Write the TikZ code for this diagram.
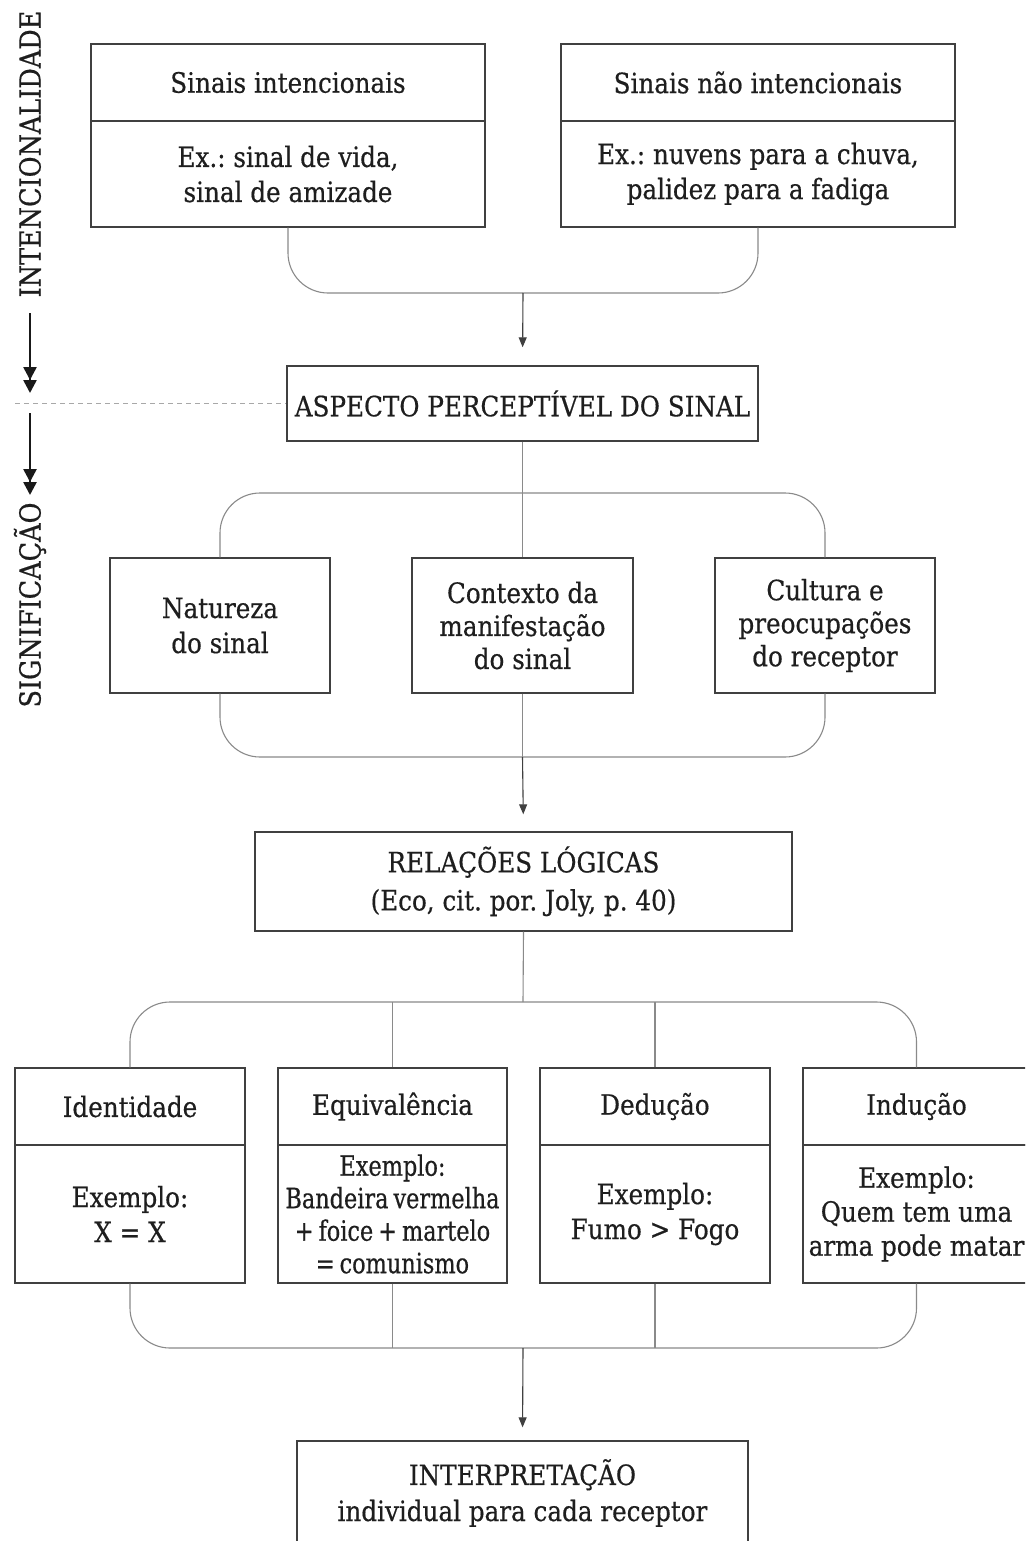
\documentclass[tikz,border=0pt]{standalone}
\usepackage{fontspec}
\setmainfont{DejaVu Serif}[FakeStretch=0.88, FakeBold=0.5]
\newfontfamily\tightserif{DejaVu Serif}[FakeStretch=0.8, FakeBold=0.5, WordSpace=0.7]
\usetikzlibrary{arrows.meta}
\definecolor{ink}{HTML}{1E1E1E}
\definecolor{frame}{HTML}{404040}
\definecolor{wire}{HTML}{8A8A8A}
\definecolor{dashgray}{HTML}{A8A8A8}
\frenchspacing
\tikzset{
  box/.style={draw=frame, line width=1.4pt, inner sep=0pt, align=center,
    text=ink, font=\fontsize{28}{35}\selectfont},
  label/.style={inner sep=0pt, align=center, text=ink,
    font=\fontsize{28}{36}\selectfont},
  sidelabel/.style={inner sep=0pt, rotate=90, text=ink,
    font=\fontsize{29}{34}\selectfont},
  wireline/.style={draw=wire, line width=1.1pt},
  bracket/.style={wireline, rounded corners=40pt},
  flow/.style={draw=frame, line width=1.1pt,
    -{Triangle[width=8pt,length=10pt]}},
  bigarrow/.style={draw=black!90, line width=2.6pt,
    -{Triangle[width=13pt,length=13pt] Triangle[width=13pt,length=13pt]}},
}
\begin{document}
\begin{tikzpicture}[x=1pt, y=-1pt]
\useasboundingbox (0,0) rectangle (1025,1541);
\clip (0,0) rectangle (1025,1541);
\fill[white] (0,0) rectangle (1025,1541);

% side labels and their arrows
\node[sidelabel] (intl) at (30,154) {INTENCIONALIDADE};
\node[sidelabel] (sigl) at (30,605) {SIGNIFICAÇÃO};
\coordinate (a1s) at (30,313);
\coordinate (a1e) at (30,393);
\coordinate (a2s) at (30,413);
\coordinate (a2e) at (30,495);
\draw[bigarrow] (a1s) -- (a1e);
\draw[bigarrow] (a2s) -- (a2e);

% first level: two kinds of signs
\node[box, minimum width=394, minimum height=77] (sIt) at (288,82.5) {Sinais intencionais};
\node[box, minimum width=394, minimum height=106] (sIb) at (288,174) {Ex.: sinal de vida,\\ sinal de amizade};
\node[box, minimum width=394, minimum height=77] (sNt) at (758,82.5) {Sinais não intencionais};
\node[box, minimum width=394, minimum height=106] (sNb) at (758,174) {Ex.: nuvens para a chuva,\\ palidez para a fadiga};

% perceptible aspect
\node[box, minimum width=471, minimum height=75] (asp) at (522.5,403.5) {ASPECTO PERCEPTÍVEL DO SINAL};
\coordinate (dashs) at (15,403.5);
\draw[draw=dashgray, line width=1pt, dash pattern=on 5pt off 4pt] (dashs) -- (asp.west);

\coordinate (j1) at (523,293);
\draw[bracket] (sIb.south) -- (288,293) -- (758,293) -- (sNb.south);
\draw[flow, shorten >=18pt] (j1) -- (asp.north);

% second level: three factors
\node[box, minimum width=220, minimum height=135] (nat) at (220,625.5) {Natureza\\ do sinal};
\node[box, minimum width=221, minimum height=135, font=\fontsize{28}{33}\selectfont] (ctx) at (522.5,625.5) {Contexto da\\ manifestação\\ do sinal};
\node[box, minimum width=220, minimum height=135, font=\fontsize{28}{33}\selectfont] (cul) at (825,625.5) {Cultura e\\ preocupações\\ do receptor};

\draw[bracket] (nat.north) -- (220,493) -- (825,493) -- (cul.north);
\draw[wireline] (asp.south) -- (ctx.north);
\coordinate (j2) at (522.5,757);
\draw[bracket] (nat.south) -- (220,757) -- (825,757) -- (cul.south);
\draw[wireline] (ctx.south) -- (j2);

% logical relations
\node[box, minimum width=537, minimum height=99, font=\fontsize{28}{38}\selectfont] (rel) at (523.5,881.5) {RELAÇÕES LÓGICAS\\ (Eco, cit. por. Joly, p. 40)};
\draw[flow, shorten >=17pt] (j2) -- (rel.north);

% third level: four relations
\node[box, minimum width=230, minimum height=77] (idt) at (130,1106.5) {Identidade};
\node[box, minimum width=230, minimum height=138] (idb) at (130,1214) {Exemplo:\\ X = X};
\node[box, minimum width=229, minimum height=77] (eqt) at (392.5,1106.5) {Equivalência};
\node[box, minimum width=229, minimum height=138, font=\tightserif\fontsize{28}{32.5}\selectfont] (eqb) at (392.5,1214) {Exemplo:\\ Bandeira vermelha\\ + foice + martelo\\ = comunismo};
\node[box, minimum width=230, minimum height=77] (dedt) at (655,1106.5) {Dedução};
\node[box, minimum width=230, minimum height=138] (dedb) at (655,1214) {Exemplo:\\ Fumo > Fogo};
\node[box, minimum width=227, minimum height=77] (indt) at (916.5,1106.5) {Indução};
\node[box, minimum width=227, minimum height=138, font=\fontsize{28}{34}\selectfont] (indb) at (916.5,1214) {Exemplo:\\ Quem tem uma\\ arma pode matar};

\coordinate (j3) at (523,1002);
\draw[wireline] (rel.south) -- (j3);
\draw[bracket] (idt.north) -- (130,1002) -- (916.5,1002) -- (indt.north);
\draw[wireline] (392.5,1002) -- (eqt.north);
\draw[wireline] (655,1002) -- (dedt.north);

\coordinate (j4) at (523,1348);
\draw[bracket] (idb.south) -- (130,1348) -- (916.5,1348) -- (indb.south);
\draw[wireline] (eqb.south) -- (392.5,1348);
\draw[wireline] (dedb.south) -- (655,1348);

% interpretation
\node[box, minimum width=451, minimum height=130] (interp) at (522.5,1506) {};
\node[label] (interpText) at (522.5,1493) {INTERPRETAÇÃO\\ individual para cada receptor};
\draw[flow, shorten >=13pt] (j4) -- (interp.north);
\end{tikzpicture}
\end{document}
